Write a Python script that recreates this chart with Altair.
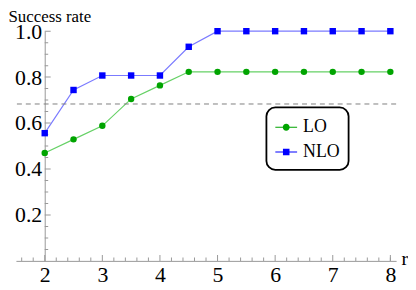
import altair as alt
import pandas as pd

r_values = [2, 2.5, 3, 3.5, 4, 4.5, 5, 5.5, 6, 6.5, 7, 7.5, 8]
lo_values = [0.470, 0.529, 0.588, 0.705, 0.764, 0.823, 0.823, 0.823, 0.823, 0.823, 0.823, 0.823, 0.823]
nlo_values = [0.556, 0.744, 0.807, 0.807, 0.807, 0.932, 1.0, 1.0, 1.0, 1.0, 1.0, 1.0, 1.0]
series_names = ["LO", "NLO"]
threshold = [0.683]

x_major = [2, 3, 4, 5, 6, 7, 8]
x_minor = [1.6, 1.8, 2.2, 2.4, 2.6, 2.8, 3.2, 3.4, 3.6, 3.8, 4.2, 4.4, 4.6, 4.8,
           5.2, 5.4, 5.6, 5.8, 6.2, 6.4, 6.6, 6.8, 7.2, 7.4, 7.6, 7.8, 8.0]
y_major = [0.2, 0.4, 0.6, 0.8, 1.0]
y_minor = [0.05, 0.1, 0.15, 0.25, 0.3, 0.35, 0.45, 0.5, 0.55, 0.65, 0.7, 0.75,
           0.85, 0.9, 0.95]

FONT = "Liberation Serif"
W, H = 384, 232
X_DOM = [1.5, 8.1]
Y_AXIS_AT = 2
y_offset = -(Y_AXIS_AT - X_DOM[0]) / (X_DOM[1] - X_DOM[0]) * W

LINE_COLORS = ["#66d166", "#7b7bff"]
MARK_COLORS = ["#00a400", "#0000ff"]

rows = []
for r, v in zip(r_values, lo_values):
    rows.append({"r": r, "rate": v, "series": "LO"})
for r, v in zip(r_values, nlo_values):
    rows.append({"r": r, "rate": v, "series": "NLO"})
df = pd.DataFrame(rows)

xscale = alt.Scale(domain=X_DOM, nice=False, zero=False)
yscale = alt.Scale(domain=[0, 1.0], nice=False)

# legend samples: thin bar (line) plus marker, in the unit box -1..1
path_lo = ("M-1,-0.045L1,-0.045L1,0.045L-1,0.045Z"
           "M-0.32,0A0.32,0.32,0,1,1,0.32,0A0.32,0.32,0,1,1,-0.32,0Z")
path_nlo = ("M-1,-0.045L1,-0.045L1,0.045L-1,0.045Z"
            "M-0.3,-0.3L0.3,-0.3L0.3,0.3L-0.3,0.3Z")

x_axis = alt.Axis(values=x_major, format="d", ticks=False, grid=False,
                  domainColor="#999999", domainWidth=1,
                  labelFont=FONT, labelFontSize=22, labelColor="black", labelPadding=4,
                  title="r", titleFont=FONT, titleFontSize=20, titleFontWeight="normal",
                  titleColor="black", titleAngle=0, titleAlign="left",
                  titleBaseline="alphabetic", titleX=W + 5, titleY=4)
y_axis = alt.Axis(values=y_major, format=".1f", ticks=False, grid=False,
                  offset=y_offset, domainColor="#999999", domainWidth=1,
                  labelFont=FONT, labelFontSize=22, labelColor="black", labelPadding=3,
                  title="Success rate", titleFont=FONT, titleFontSize=17,
                  titleFontWeight="normal", titleColor="black", titleAngle=0,
                  titleAlign="left", titleBaseline="alphabetic",
                  titleX=-8 + y_offset, titleY=-10)

base = alt.Chart(df)
lo_df = base.transform_filter("datum.series == 'LO'")
nlo_df = base.transform_filter("datum.series == 'NLO'")

line_lo = lo_df.mark_line(strokeWidth=1.2, color=LINE_COLORS[0]).encode(
    x=alt.X("r:Q", scale=xscale, axis=x_axis),
    y=alt.Y("rate:Q", scale=yscale, axis=y_axis),
)
line_nlo = nlo_df.mark_line(strokeWidth=1.2, color=LINE_COLORS[1]).encode(x="r:Q", y="rate:Q")

pts_lo = lo_df.mark_point(
    filled=True, opacity=1, size=42, shape="circle", color=MARK_COLORS[0]
).encode(x="r:Q", y="rate:Q")
pts_nlo = nlo_df.mark_point(
    filled=True, opacity=1, size=42, shape="square", color=MARK_COLORS[1]
).encode(x="r:Q", y="rate:Q")

legend = alt.Legend(
    title=None, orient="none", legendX=253, legendY=77,
    symbolSize=484, symbolStrokeWidth=0, symbolOpacity=1,
    labelFont=FONT, labelFontSize=18, labelColor="black",
    labelOffset=6, rowPadding=5, padding=9,
    strokeColor="black", fillColor="white", cornerRadius=9,
)

# invisible layer that only feeds the legend (marker + line sample)
legend_layer = base.mark_point(filled=True, opacity=0).encode(
    x="r:Q",
    y="rate:Q",
    color=alt.Color("series:N", scale=alt.Scale(domain=series_names, range=MARK_COLORS), legend=legend),
    shape=alt.Shape("series:N", scale=alt.Scale(domain=series_names, range=[path_lo, path_nlo]), legend=legend),
)

thr = alt.Chart(pd.DataFrame({"v": threshold})).mark_rule(
    color="#808080", strokeWidth=1, strokeDash=[5, 4]
).encode(y="v:Q")

xt_major = alt.Chart(pd.DataFrame({"t": x_major})).mark_tick(
    orient="vertical", size=6, thickness=1, yOffset=-3, color="#999999", opacity=1
).encode(x="t:Q", y=alt.datum(0))
xt_minor = alt.Chart(pd.DataFrame({"t": x_minor})).mark_tick(
    orient="vertical", size=3.5, thickness=1, yOffset=-1.75, color="#999999", opacity=1
).encode(x="t:Q", y=alt.datum(0))
yt_major = alt.Chart(pd.DataFrame({"t": y_major})).mark_tick(
    orient="horizontal", size=6, thickness=1, xOffset=3, color="#999999", opacity=1
).encode(y="t:Q", x=alt.datum(Y_AXIS_AT))
yt_minor = alt.Chart(pd.DataFrame({"t": y_minor})).mark_tick(
    orient="horizontal", size=3.5, thickness=1, xOffset=1.75, color="#999999", opacity=1
).encode(y="t:Q", x=alt.datum(Y_AXIS_AT))

chart = alt.layer(line_lo, line_nlo, thr, xt_major, xt_minor, yt_major, yt_minor,
                  pts_lo, pts_nlo, legend_layer).properties(
    width=W, height=H,
    autosize=alt.AutoSizeParams(type="none"),
    padding={"left": 8, "top": 22, "right": 12, "bottom": 28},
    background="white",
).configure_view(stroke=None).configure_legend(strokeWidth=1.8)

chart.save("out.html", embed_options={"renderer": "svg", "actions": False})
